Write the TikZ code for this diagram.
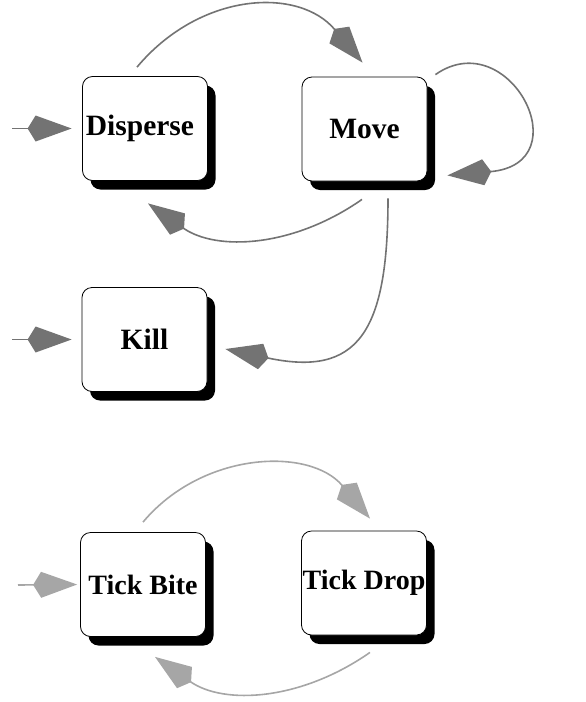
\documentclass[tikz,border=0pt]{standalone}
\usepackage{fontspec}
\setmainfont{Liberation Serif}
\usetikzlibrary{arrows.meta,shadows}

\begin{document}
\begin{tikzpicture}[x=1pt,y=1pt,
  state/.style={draw=black, line width=0.8pt, fill=white, rounded corners=10pt,
    minimum width=125pt, minimum height=104pt, inner sep=0pt,
    font=\fontsize{29.5}{31}\selectfont\bfseries,
    drop shadow={shadow xshift=8pt, shadow yshift=-9pt, fill=black, opacity=1}},
  tickstate/.style={state, font=\fontsize{28}{30}\selectfont\bfseries},
  flow/.style={draw=black!55, line width=1.6pt,
    -{Kite[length=44pt,width=26pt,inset=8pt]}},
  lightflow/.style={flow, draw=black!35}]
\useasboundingbox (0,0) rectangle (586,-702);

% upper states
\node[state] (disperse) at (145,-128.5) {Disperse\hspace*{10pt}};
\node[state] (move) at (364.5,-129) {Move};
\node[state] (kill) at (144.5,-339.5) {Kill};
\coordinate (indisperse) at (12,-128.5);
\coordinate (inkill) at (12,-339.5);

\draw[flow] (indisperse) -- ([xshift=-10.5pt]disperse.west);
\draw[flow] (inkill) -- ([xshift=-10pt]kill.west);
\draw[flow] ([xshift=-8pt,yshift=9pt]disperse.north) to[out=50,in=130,looseness=1.12] ([xshift=-2pt,yshift=14pt]move.north);
\draw[flow] ([xshift=8pt,yshift=2pt]move.north east) to[out=35,in=5,out distance=90pt,in distance=135pt] ([xshift=20pt,yshift=6pt]move.south east);
\draw[flow] ([xshift=-2.5pt,yshift=-18pt]move.south) to[out=-145,in=-35] ([xshift=3pt,yshift=-22.5pt]disperse.south);
\draw[flow] ([xshift=23.5pt,yshift=-17pt]move.south) to[out=-90,in=-12,distance=135pt] ([xshift=18pt,yshift=-9.5pt]kill.east);

% tick states
\node[tickstate] (bite) at (143,-584.5) {Tick Bite};
\node[tickstate] (drop) at (364,-583) {Tick Drop};
\coordinate (inbite) at (18,-585);

\draw[lightflow] (inbite) -- ([xshift=-3pt]bite.west);
\draw[lightflow] ([yshift=10pt]bite.north) to[out=50,in=130,looseness=1.05] ([xshift=6pt,yshift=12pt]drop.north);
\draw[lightflow] ([xshift=6pt,yshift=-17pt]drop.south) to[out=-145,in=-35] ([xshift=12pt,yshift=-20pt]bite.south);
\end{tikzpicture}
\end{document}
